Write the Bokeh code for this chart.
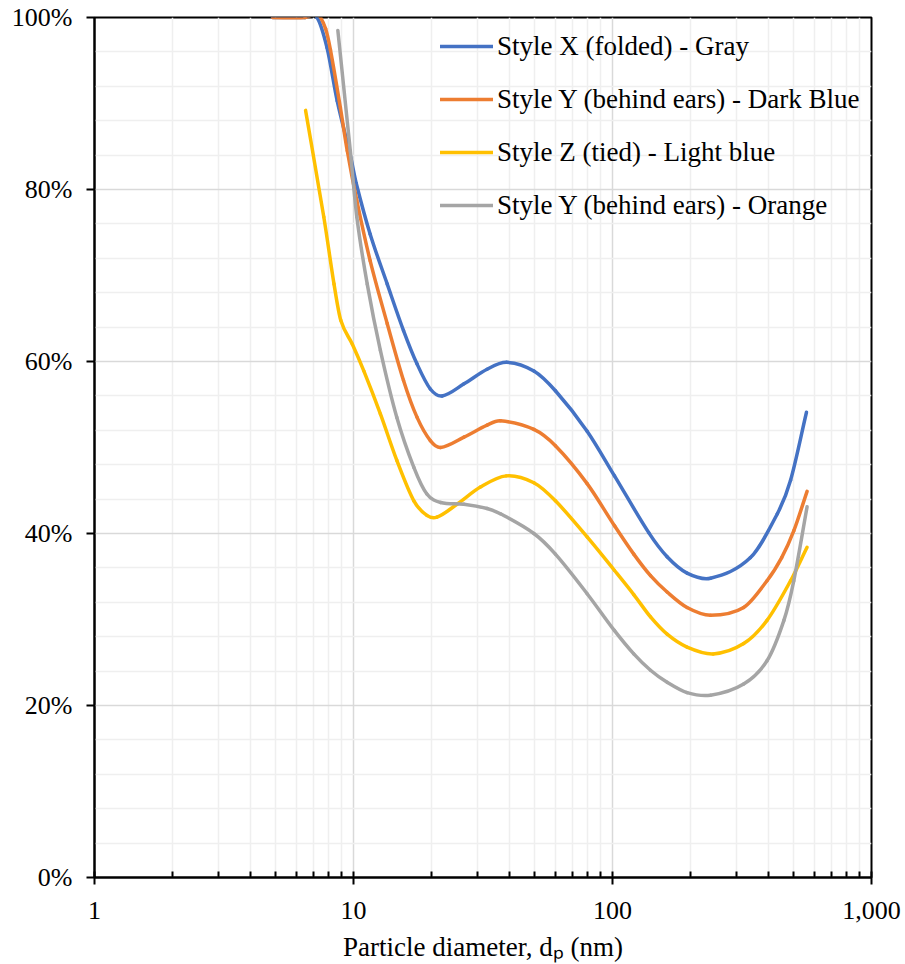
from bokeh.plotting import figure
from bokeh.models import (FixedTicker, NumeralTickFormatter, PrintfTickFormatter,
                          Range1d, Legend, LegendItem)
from bokeh.embed import file_html
from bokeh.resources import INLINE
import math

# ---- data ----
x_tick_values = [1, 10, 100, 1000]
x_minor_values = [2, 3, 4, 5, 6, 7, 8, 9, 20, 30, 40, 50, 60, 70, 80, 90,
                  200, 300, 400, 500, 600, 700, 800, 900]
y_tick_values = [0, 20, 40, 60, 80, 100]
y_minor_values = [4, 8, 12, 16, 24, 28, 32, 36, 44, 48, 52, 56, 64, 68, 72, 76,
                  84, 88, 92, 96]

series_names = ["Style X (folded) - Gray",
                "Style Y (behind ears) - Dark Blue",
                "Style Z (tied) - Light blue",
                "Style Y (behind ears) - Orange"]

x_dp = [4.87, 6.5, 7.2, 7.9, 8.65, 9.72, 10.25, 11.6, 13.5, 15.6, 17.6, 19.8, 22.0,
        26.7, 32.8, 39, 49.7, 60.2, 79.8, 101.8, 138, 162.5, 194, 239, 341, 433,
        487, 561]
x_pct = [100, 100, 100.1, 96.5, 90.3, 84.0, 80.7, 74.8, 69.0, 63.6, 59.7, 56.8, 56.0,
         57.4, 59.1, 59.9, 58.9, 56.6, 51.9, 46.7, 40.1, 37.3, 35.4, 34.8, 37.2, 42.3,
         46.2, 54.1]

y_dp = [4.87, 6.5, 7.3, 7.8, 8.15, 8.9, 9.46, 10.3, 11.6, 13.5, 15.6, 17.6, 19.8,
        21.7, 26.7, 32.8, 36.9, 49.7, 60.2, 79.8, 101.8, 120.8, 140.2, 162.5, 194,
        239, 321, 395, 450, 501, 564]
y_pct = [100, 100, 100.3, 98.7, 96.2, 89.5, 84.5, 78.7, 71.7, 64.4, 57.8, 53.5, 50.8,
         50.0, 51.2, 52.6, 53.1, 52.1, 50.2, 45.8, 40.9, 37.6, 35.1, 33.2, 31.4,
         30.5, 31.4, 34.5, 37.2, 40.3, 44.9]

z_dp = [6.53, 7.68, 8.41, 8.93, 9.9, 10.96, 12.7, 14.7, 17.1, 19.2, 21.0, 25.1,
        30.9, 38.9, 49.7, 60.2, 79.8, 101.8, 120.8, 140.2, 162.5, 194, 245, 321,
        395, 487, 564]
z_pct = [89.2, 76.8, 69.0, 64.8, 62.0, 58.9, 53.9, 48.5, 43.8, 42.1, 41.9, 43.4,
         45.4, 46.7, 45.9, 43.8, 39.6, 35.7, 32.9, 30.3, 28.3, 26.8, 26.0, 27.2,
         29.9, 34.5, 38.4]

o_dp = [8.7, 9.72, 10.3, 11.3, 12.7, 14.7, 17.1, 19.2, 21.7, 26.7, 32.8, 36.9,
        49.7, 60.2, 79.8, 101.8, 120.8, 140.2, 162.5, 194, 239, 321, 395, 459,
        501, 564]
o_pct = [98.5, 84.5, 76.8, 69.0, 61.3, 53.5, 47.7, 44.6, 43.6, 43.4, 42.9, 42.3,
         40.0, 37.6, 33.0, 28.7, 26.0, 24.1, 22.7, 21.5, 21.2, 22.5, 25.2, 29.9,
         34.5, 43.1]

colors = ["#4472C4", "#ED7D31", "#FFC000", "#A5A5A5"]

FONT = "Liberation Serif"

p = figure(frame_width=777, frame_height=860, x_axis_type="log",
           x_range=Range1d(1, 1000), y_range=Range1d(0, 100),
           output_backend="svg", toolbar_location=None,
           min_border_left=94, min_border_right=34,
           min_border_top=17, min_border_bottom=87)
p.background_fill_color = "white"
p.border_fill_color = "white"
p.outline_line_color = "black"
p.outline_line_width = 2

# axes
p.xaxis.ticker = FixedTicker(ticks=x_tick_values, minor_ticks=x_minor_values)
p.yaxis.ticker = FixedTicker(ticks=y_tick_values, minor_ticks=y_minor_values)
p.xaxis.formatter = NumeralTickFormatter(format="0,0")
p.yaxis.formatter = PrintfTickFormatter(format="%d%%")
for ax in (p.xaxis, p.yaxis):
    ax.axis_line_color = "black"
    ax.axis_line_width = 2
    ax.major_tick_line_color = "black"
    ax.major_tick_line_width = 2
    ax.minor_tick_line_color = "black"
    ax.minor_tick_line_width = 2
    ax.major_label_text_font = FONT
    ax.major_label_text_font_size = "26px"
    ax.major_label_text_color = "black"
p.xaxis.major_tick_in = 6
p.xaxis.major_tick_out = 7
p.xaxis.minor_tick_in = 6
p.xaxis.minor_tick_out = 0
p.xaxis.major_label_standoff = 17
p.xaxis.axis_label = "Particle diameter, d\u209a (nm)"
p.xaxis.axis_label_text_font = FONT
p.xaxis.axis_label_text_font_size = "27px"
p.xaxis.axis_label_text_font_style = "normal"
p.xaxis.axis_label_text_color = "black"
p.xaxis.axis_label_standoff = 10
p.yaxis.major_tick_in = 0
p.yaxis.major_tick_out = 8
p.yaxis.minor_tick_line_color = None
p.yaxis.major_label_standoff = 14

# grids
for g in (p.xgrid, p.ygrid):
    g.grid_line_color = "#d9d9d9"
    g.grid_line_width = 1.5
    g.minor_grid_line_color = "#efefef"
    g.minor_grid_line_width = 1.5


def smooth_segments(xs, ys):
    """Cubic Hermite (as Bezier control points) in log-x space, for a smoothed line."""
    u = [math.log10(v) for v in xs]
    n = len(u)
    m = []
    for i in range(n):
        a = max(i - 1, 0)
        d = min(i + 1, n - 1)
        m.append((ys[d] - ys[a]) / (u[d] - u[a]))
    seg = {k: [] for k in ("x0", "y0", "x1", "y1", "cx0", "cy0", "cx1", "cy1")}
    for i in range(n - 1):
        h = u[i + 1] - u[i]
        seg["x0"].append(xs[i]); seg["y0"].append(ys[i])
        seg["x1"].append(xs[i + 1]); seg["y1"].append(ys[i + 1])
        seg["cx0"].append(10 ** (u[i] + h / 3.0)); seg["cy0"].append(ys[i] + m[i] * h / 3.0)
        seg["cx1"].append(10 ** (u[i + 1] - h / 3.0)); seg["cy1"].append(ys[i + 1] - m[i + 1] * h / 3.0)
    return seg


# series
data = [(x_dp, x_pct), (y_dp, y_pct), (z_dp, z_pct), (o_dp, o_pct)]
items = []
for (xs, ys), c, name in zip(data, colors, series_names):
    s = smooth_segments(xs, ys)
    r = p.bezier(x0=s["x0"], y0=s["y0"], x1=s["x1"], y1=s["y1"],
                 cx0=s["cx0"], cy0=s["cy0"], cx1=s["cx1"], cy1=s["cy1"],
                 line_color=c, line_width=3.5, line_cap="round")
    items.append(LegendItem(label=name, renderers=[r]))

legend = Legend(items=items, location=(346, 652))
legend.background_fill_alpha = 0
legend.border_line_color = None
legend.padding = 0
legend.margin = 0
legend.spacing = 13
legend.glyph_height = 40
legend.label_height = 40
legend.glyph_width = 53
legend.label_standoff = 4
legend.label_text_font = FONT
legend.label_text_font_size = "27px"
legend.label_text_color = "black"
p.add_layout(legend)

open("out.html", "w").write(file_html(p, INLINE))
